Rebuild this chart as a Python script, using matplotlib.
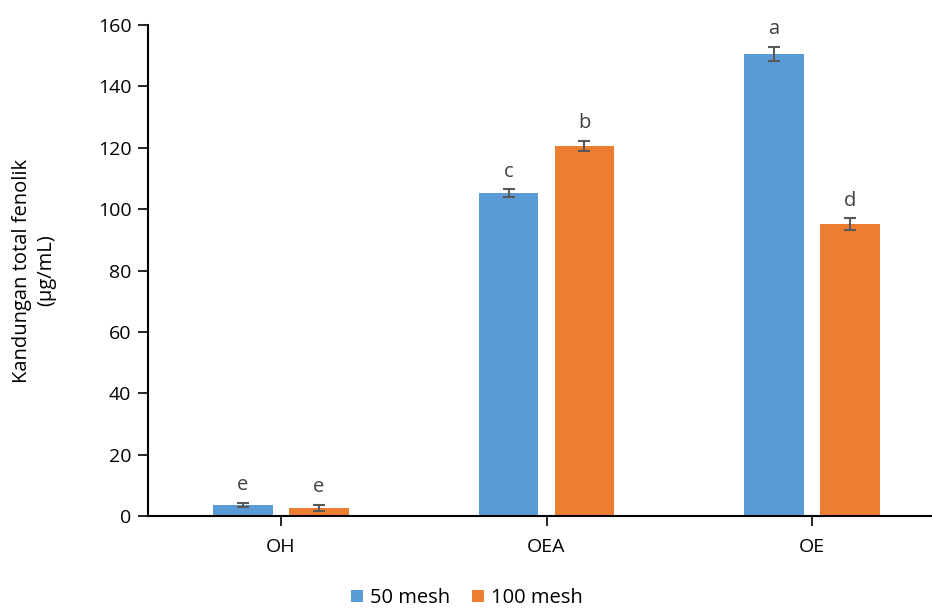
import numpy as np
import matplotlib
matplotlib.use('Agg')
import matplotlib.pyplot as plt

plt.rcParams['font.family'] = ['Open Sans', 'DejaVu Sans']

categories = ['OH', 'OEA', 'OE']
mesh50 = [3.6, 105.2, 150.6]
mesh100 = [2.7, 120.7, 95.1]
err50 = [0.6, 1.3, 2.2]
err100 = [1.0, 1.6, 1.9]
letters50 = ['e', 'c', 'a']
letters100 = ['e', 'b', 'd']

blue = '#5B9BD5'
orange = '#ED7D31'
err_col = '#595959'
txt_col = '#404040'
fs = 14.5

fig = plt.figure(figsize=(9.32, 6.08), dpi=100)
ax = fig.add_axes([148/932, 92/608, 797/932, 491/608])

x = np.arange(len(categories))
w = 0.2256
off = 0.143

ax.bar(x - off, mesh50, w, color=blue, label='50 mesh', zorder=2)
ax.bar(x + off, mesh100, w, color=orange, label='100 mesh', zorder=2)
ax.errorbar(x - off, mesh50, yerr=err50, fmt='none', ecolor=err_col,
            elinewidth=1.5, capsize=4.5, capthick=1.5, zorder=3)
ax.errorbar(x + off, mesh100, yerr=err100, fmt='none', ecolor=err_col,
            elinewidth=1.5, capsize=4.5, capthick=1.5, zorder=3)

# significance letters above the error bars
for xi, v, e, t in zip(x - off, mesh50, err50, letters50):
    ax.text(xi, v + e + 2.5, t, ha='center', va='bottom', fontsize=fs, color=txt_col)
for xi, v, e, t in zip(x + off, mesh100, err100, letters100):
    ax.text(xi, v + e + 2.5, t, ha='center', va='bottom', fontsize=fs, color=txt_col)

ax.set_xlim(-0.5, 2.5)
ax.set_ylim(0, 160)
ax.set_yticks(np.arange(0, 161, 20))
ax.set_xticks(x)
ax.set_xticklabels(categories)
ax.tick_params(axis='both', labelsize=14, colors='black', length=7, width=1.2)
ax.tick_params(axis='x', pad=9)
ax.tick_params(axis='y', pad=5)
ax.spines['top'].set_visible(False)
ax.spines['right'].set_visible(False)
ax.spines['left'].set_linewidth(1.5)
ax.spines['bottom'].set_linewidth(1.5)
ax.set_ylabel('Kandungan total fenolik\n(µg/mL)', fontsize=fs, labelpad=30,
              linespacing=1.25)

fig.legend(loc='center', bbox_to_anchor=(467/932, 1 - 598/608), ncol=2,
           frameon=False, fontsize=fs, handlelength=0.6, handleheight=0.6,
           handletextpad=0.35, columnspacing=1.1, borderpad=0)

fig.savefig('out.png', dpi=100)
